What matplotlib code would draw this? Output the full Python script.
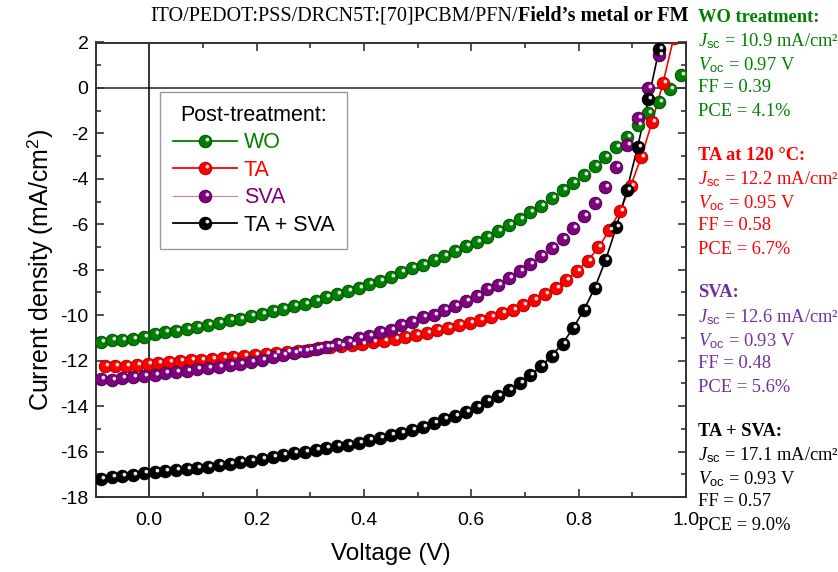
import matplotlib
matplotlib.use('Agg')
import matplotlib.pyplot as plt
import numpy as np
from matplotlib.lines import Line2D
from matplotlib.path import Path
from matplotlib.legend_handler import HandlerTuple
from matplotlib.ticker import MultipleLocator

plt.rcParams['font.family'] = ['Liberation Sans', 'DejaVu Sans']
plt.rcParams['mathtext.fontset'] = 'custom'
plt.rcParams['mathtext.rm'] = 'Liberation Sans'
plt.rcParams['mathtext.it'] = 'Liberation Serif:italic'
plt.rcParams['axes.unicode_minus'] = False

# sample voltages (V) of the WO / SVA / TA+SVA scans
voltage = [-0.09, -0.07, -0.05, -0.03, -0.01,
           0.01, 0.03, 0.05, 0.07, 0.09, 0.11, 0.13, 0.15, 0.17, 0.19,
           0.21, 0.23, 0.25, 0.27, 0.29, 0.31, 0.33, 0.35, 0.37, 0.39,
           0.41, 0.43, 0.45, 0.47, 0.49, 0.51, 0.53, 0.55, 0.57, 0.59,
           0.61, 0.63, 0.65, 0.67, 0.69, 0.71, 0.73, 0.75, 0.77, 0.79,
           0.81, 0.83, 0.85, 0.87, 0.89, 0.91, 0.93, 0.95, 0.97, 0.99]
# TA scan is sampled slightly shifted
voltage_ta = [-0.083, -0.063, -0.043, -0.023, -0.003,
              0.017, 0.037, 0.057, 0.077, 0.097, 0.117, 0.137, 0.157, 0.177, 0.197,
              0.217, 0.237, 0.257, 0.277, 0.297, 0.317, 0.337, 0.357, 0.377, 0.397,
              0.417, 0.437, 0.457, 0.477, 0.497, 0.517, 0.537, 0.557, 0.577, 0.597,
              0.617, 0.637, 0.657, 0.677, 0.697, 0.717, 0.737, 0.757, 0.777, 0.797,
              0.817, 0.837, 0.857, 0.877, 0.897, 0.917, 0.937, 0.957, 0.977]

j_wo = [-11.19, -11.10, -11.08, -11.03, -10.96,
        -10.83, -10.74, -10.68, -10.61, -10.52,
        -10.42, -10.34, -10.23, -10.15, -10.05,
        -9.93, -9.83, -9.73, -9.61, -9.49,
        -9.37, -9.22, -9.08, -8.94, -8.79,
        -8.63, -8.48, -8.31, -8.12, -7.93,
        -7.78, -7.59, -7.38, -7.19, -6.97,
        -6.76, -6.54, -6.29, -6.02, -5.76,
        -5.48, -5.19, -4.85, -4.51, -4.19,
        -3.82, -3.43, -3.02, -2.61, -2.14,
        -1.63, -1.11, -0.64, -0.06, 0.57]

j_ta = [-12.25, -12.25, -12.22, -12.18, -12.13,
        -12.10, -12.06, -12.01, -11.98, -11.95,
        -11.92, -11.88, -11.84, -11.80, -11.74,
        -11.69, -11.65, -11.61, -11.57, -11.52,
        -11.46, -11.40, -11.35, -11.30, -11.25,
        -11.18, -11.14, -11.04, -10.95, -10.87,
        -10.78, -10.67, -10.55, -10.45, -10.34,
        -10.20, -10.07, -9.92, -9.75, -9.55,
        -9.33, -9.08, -8.79, -8.47, -8.05,
        -7.60, -7.02, -6.27, -5.41, -4.31,
        -3.02, -1.48, 0.20, 2.20]

j_sva = [-12.79, -12.84, -12.76, -12.72, -12.66,
         -12.61, -12.54, -12.50, -12.44, -12.37,
         -12.32, -12.28, -12.21, -12.13, -12.06,
         -11.95, -11.86, -11.77, -11.66, -11.56,
         -11.47, -11.40, -11.25, -11.16, -11.00,
         -10.91, -10.75, -10.63, -10.43, -10.28,
         -10.10, -9.97, -9.79, -9.59, -9.38,
         -9.14, -8.85, -8.66, -8.37, -8.04,
         -7.74, -7.38, -7.05, -6.65, -6.18,
         -5.65, -5.06, -4.34, -3.46, -2.50,
         -1.33, -0.01, 1.45]

j_ta_sva = [-17.19, -17.13, -17.09, -17.02, -16.96,
            -16.90, -16.87, -16.83, -16.77, -16.73,
            -16.66, -16.59, -16.55, -16.48, -16.40,
            -16.32, -16.23, -16.15, -16.08, -16.00,
            -15.92, -15.84, -15.77, -15.69, -15.62,
            -15.50, -15.40, -15.28, -15.18, -15.03,
            -14.90, -14.75, -14.58, -14.43, -14.24,
            -14.02, -13.79, -13.57, -13.30, -12.98,
            -12.65, -12.25, -11.78, -11.25, -10.56,
            -9.76, -8.80, -7.59, -6.14, -4.48,
            -2.58, -0.50, 1.71]

labels = ['WO', 'TA', 'SVA', 'TA + SVA']
colors = ['#008000', '#ff0000', '#800080', '#000000']
edges = ['#004d00', '#b30000', '#4d004d', '#000000']

# summary text on the right
headers = ['WO treatment:', 'TA at 120 \u00b0C:', 'SVA:', 'TA + SVA:']
jsc = ['10.9', '12.2', '12.6', '17.1']
voc = ['0.97', '0.95', '0.93', '0.93']
ff = ['0.39', '0.58', '0.48', '0.57']
pce = ['4.1', '6.7', '5.6', '9.0']
text_colors = ['#008000', '#ff0000', '#7030a0', '#000000']

# small off-centre shine spot so the markers look like little balls
# (the lone MOVETO at (-1,-1) fixes the marker scale so the spot stays off centre)
circ = Path.unit_circle()
shine_path = Path(np.concatenate([[[-1.0, -1.0]], circ.vertices * 0.3 + 0.3]),
                  np.concatenate([[Path.MOVETO], circ.codes]))
MS = 9

fig = plt.figure(figsize=(8.38, 5.72), dpi=100)
ax = fig.add_axes([95.5 / 838, 1 - 497 / 572, 590.5 / 838, 454.5 / 572])

series = [(voltage, j_wo, False), (voltage_ta, j_ta, True),
          (voltage, j_sva, False), (voltage, j_ta_sva, True)]
for (vx, jy, joined), c, ec in zip(series, colors, edges):
    vx = vx[:len(jy)]
    if joined:
        ax.plot(vx, jy, '-', color=c, lw=1.2, zorder=2)
    ax.plot(vx, jy, 'o', ms=MS, mfc=c, mec=ec, mew=0.7, zorder=3)
    ax.plot(vx, jy, ls='none', marker=shine_path, ms=MS, mfc='#e4e4e4', mec='none', zorder=4)

ax.axhline(0, color='#222222', lw=1.1, zorder=1)
ax.axvline(0, color='k', lw=1.1, zorder=1)

ax.set_xlim(-0.1, 1.0)
ax.set_ylim(-18, 2)
ax.xaxis.set_major_locator(MultipleLocator(0.2))
ax.xaxis.set_minor_locator(MultipleLocator(0.1))
ax.yaxis.set_major_locator(MultipleLocator(2))
ax.yaxis.set_minor_locator(MultipleLocator(1))
ax.tick_params(which='both', direction='in', top=True, right=True, width=1.2, color='#333333')
ax.tick_params(which='major', length=6, labelsize=14)
ax.tick_params(axis='x', which='major', pad=11)
ax.tick_params(axis='y', which='major', pad=5)
ax.tick_params(which='minor', length=3.5)
for sp in ax.spines.values():
    sp.set_linewidth(1.4)
    sp.set_color('#333333')

ax.set_xlabel('Voltage (V)', fontsize=17.5, labelpad=10)
ax.set_ylabel('Current density (mA/cm$^2$)', fontsize=18, labelpad=4)

handles = []
for c, ec, lab in zip(colors, edges, labels):
    lw = 0.8 if lab == 'SVA' else 1.3
    lc = '#c080c0' if lab == 'SVA' else c
    h1 = Line2D([], [], color=lc, lw=lw, marker='o', ms=MS, mfc=c, mec=ec, mew=0.7)
    h2 = Line2D([], [], ls='none', marker=shine_path, ms=MS, mfc='#e4e4e4', mec='none')
    handles.append((h1, h2))
leg = ax.legend(handles, labels, handler_map={tuple: HandlerTuple(ndivide=1)},
                title='Post-treatment:', title_fontsize=15.5, fontsize=15.5,
                loc='upper left', bbox_to_anchor=(0.109, 0.891), borderaxespad=0,
                handlelength=3.0, handletextpad=0.3, labelspacing=0.3,
                borderpad=0.6, fancybox=False, framealpha=1, edgecolor='#999999')
leg.get_frame().set_linewidth(1.0)
for t, c in zip(leg.get_texts(), colors):
    t.set_color(c)

# title in serif, last part bold
t1 = fig.text(150 / 838, 1 - 26 / 572, 'ITO/PEDOT:PSS/DRCN5T:[70]PCBM/PFN/',
              family='Liberation Serif', fontsize=14.5, va='bottom', ha='left')
ax.annotate('Field\u2019s metal or FM', xy=(1, 0), xycoords=t1, va='bottom', ha='left',
            family='Liberation Serif', fontsize=14.5, fontweight='bold', annotation_clip=False)

offsets = [0, 24.5, 48, 71, 94]
for i in range(4):
    y0 = 17 + 138 * i
    lines = [headers[i],
             '$J_{\\mathrm{sc}}$ = ' + jsc[i] + ' mA/cm\u00b2',
             '$V_{\\mathrm{oc}}$ = ' + voc[i] + ' V',
             'FF = ' + ff[i],
             'PCE = ' + pce[i] + '%']
    for k, (txt, dy) in enumerate(zip(lines, offsets)):
        fig.text(698 / 838, 1 - (y0 + dy) / 572, txt, family='Liberation Serif',
                 fontsize=13.3, color=text_colors[i], va='center', ha='left',
                 fontweight='bold' if k == 0 else 'normal')

fig.savefig('out.png', dpi=100)
